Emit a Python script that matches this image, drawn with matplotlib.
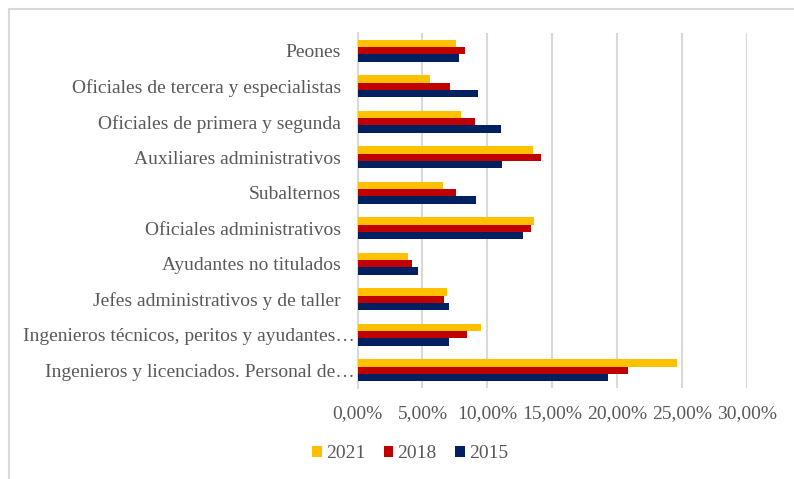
import matplotlib.pyplot as plt
import numpy as np
from matplotlib.patches import Rectangle
from matplotlib.ticker import FuncFormatter
from matplotlib.transforms import ScaledTranslation

plt.rcParams['font.family'] = ['Liberation Serif', 'DejaVu Serif']

# Categories (top to bottom as shown)
categories = [
    'Peones',
    'Oficiales de tercera y especialistas',
    'Oficiales de primera y segunda',
    'Auxiliares administrativos',
    'Subalternos',
    'Oficiales administrativos',
    'Ayudantes no titulados',
    'Jefes administrativos y de taller',
    'Ingenieros técnicos, peritos y ayudantes…',
    'Ingenieros y licenciados. Personal de…',
]

# Shares per year (fraction)
v2021 = [0.0757, 0.0559, 0.0796, 0.1353, 0.0657, 0.1361, 0.0389, 0.0690, 0.0952, 0.2463]
v2018 = [0.0831, 0.0716, 0.0904, 0.1417, 0.0757, 0.1335, 0.0423, 0.0667, 0.0847, 0.2080]
v2015 = [0.0780, 0.0929, 0.1104, 0.1109, 0.0911, 0.1271, 0.0464, 0.0708, 0.0708, 0.1926]

series = [('2021', v2021, '#FFC000'), ('2018', v2018, '#C00000'), ('2015', v2015, '#002060')]

fig = plt.figure(figsize=(7.94, 4.79), dpi=100)
ax = fig.add_axes([0.4503, 0.19, 0.4905, 0.741])

# light frame around the chart (only top/left visible in the crop)
fig.patches.append(Rectangle((9 / 794, -0.1), 1.2, 1 - 9 / 479 + 0.1, transform=fig.transFigure,
                             fill=False, edgecolor='#d9d9d9', linewidth=1.5))

y = np.arange(len(categories))
h = 0.205
for i, (name, vals, color) in enumerate(series):
    ax.barh(y + (i - 1) * h, vals, height=h, color=color, label=name, zorder=3)

ax.set_xlim(0, 0.30)
ax.set_ylim(len(categories) - 0.5, -0.5)
ax.set_xticks(np.arange(0, 0.301, 0.05))
ax.xaxis.set_major_formatter(FuncFormatter(lambda v, p: f'{v * 100:.2f}%'.replace('.', ',')))
ax.set_yticks(y)
ax.set_yticklabels(categories)

ax.grid(True, axis='x', color='#d9d9d9', linewidth=1.5, zorder=0)
for s in ['top', 'right', 'bottom']:
    ax.spines[s].set_visible(False)
ax.spines['left'].set_color('#d9d9d9')
ax.spines['left'].set_linewidth(1.5)
ax.tick_params(axis='both', length=0, colors='#595959', labelsize=14)
ax.tick_params(axis='x', pad=12)
ax.tick_params(axis='y', pad=12)

# truncated labels sit a little closer to the axis in the original
shift = ScaledTranslation(14 / 100, 0, fig.dpi_scale_trans)
for lab in ax.get_yticklabels():
    if lab.get_text().endswith('…'):
        lab.set_transform(lab.get_transform() + shift)

leg = fig.legend(loc='center', bbox_to_anchor=(410 / 794, 1 - 454 / 479), ncol=3, frameon=False,
                 fontsize=14, handlelength=0.5, handleheight=0.5, handletextpad=0.2,
                 columnspacing=0.95)
for t in leg.get_texts():
    t.set_color('#595959')

plt.savefig('out.png', dpi=100)
